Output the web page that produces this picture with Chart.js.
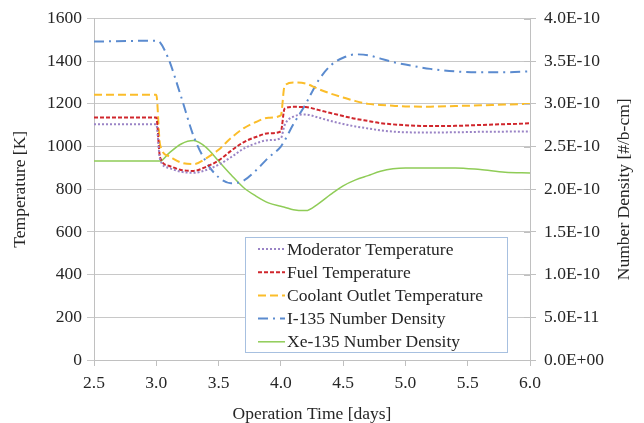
<!DOCTYPE html>
<html>
<head>
<meta charset="utf-8">
<script src="https://cdn.jsdelivr.net/npm/chart.js@4/dist/chart.umd.min.js"></script>
<style>
  html, body { margin: 0; padding: 0; background: #fff; }
  #wrap { width: 644px; height: 423px; }
</style>
</head>
<body>
<div id="wrap"><canvas id="chart" width="644" height="423"></canvas></div>
<script>
// operation time [days]
const times = [2.5, 3.0, 3.03, 3.1, 3.2, 3.3, 3.4, 3.5, 3.6, 3.7, 3.8, 3.9, 4.0, 4.03, 4.1,
  4.2, 4.3, 4.4, 4.5, 4.6, 4.7, 4.8, 4.9, 5.0, 5.2, 5.4, 5.6, 5.8, 6.0];

// temperatures [K]
const moderatorTemp = [1104, 1104, 940, 900, 882, 877, 890, 915, 950, 990, 1015, 1030, 1039, 1100, 1140,
  1150, 1136, 1120, 1106, 1094, 1085, 1076, 1070, 1067, 1066, 1067, 1069, 1070, 1071];
const fuelTemp = [1136, 1136, 950, 910, 890, 886, 905, 935, 980, 1020, 1045, 1062, 1071, 1178, 1186,
  1185, 1172, 1157, 1143, 1130, 1120, 1110, 1104, 1100, 1096, 1097, 1101, 1105, 1109];
const coolantTemp = [1243, 1243, 1010, 955, 925, 918, 945, 985, 1040, 1085, 1115, 1135, 1146, 1285, 1300,
  1295, 1270, 1248, 1230, 1213, 1200, 1195, 1191, 1188, 1187, 1190, 1193, 1197, 1200];

// number densities [#/b-cm]
const i135Density = [3.73e-10, 3.74e-10, 3.72e-10, 3.52e-10, 3.08e-10, 2.62e-10, 2.32e-10, 2.14e-10, 2.07e-10,
  2.10e-10, 2.22e-10, 2.37e-10, 2.50e-10, 2.57e-10, 2.76e-10, 3.00e-10, 3.27e-10, 3.45e-10, 3.54e-10,
  3.58e-10, 3.57e-10, 3.53e-10, 3.49e-10, 3.46e-10, 3.41e-10, 3.38e-10, 3.37e-10, 3.37e-10, 3.38e-10];
const xe135Density = [2.33e-10, 2.33e-10, 2.33e-10, 2.42e-10, 2.53e-10, 2.57e-10, 2.49e-10, 2.33e-10, 2.17e-10,
  2.02e-10, 1.92e-10, 1.84e-10, 1.80e-10, 1.79e-10, 1.76e-10, 1.75e-10, 1.83e-10, 1.94e-10, 2.04e-10,
  2.11e-10, 2.16e-10, 2.21e-10, 2.24e-10, 2.25e-10, 2.25e-10, 2.25e-10, 2.23e-10, 2.20e-10, 2.19e-10];

const rightTitle = 'Number Density [#/b-cm]';

const FONT = '"Liberation Serif", "Times New Roman", serif';
const FS = 17.5;
const TEXT = '#262626';

function pts(vals) {
  return times.map((t, i) => ({ x: t, y: vals[i] }));
}

// 4.0E-10, 5.0E-11, 0.0E+00
function sci(v) {
  if (Math.abs(v) < 1e-20) return '0.0E+00';
  let e = Math.floor(Math.log10(Math.abs(v)) + 1e-9);
  let m = v / Math.pow(10, e);
  let s = e < 0 ? '-' : '+';
  let ae = Math.abs(e);
  return m.toFixed(1) + 'E' + s + (ae < 10 ? '0' + ae : ae);
}

// legend drawn inside the plot, like the original
const legendBox = {
  id: 'legendBox',
  afterDatasetsDraw(chart) {
    const ctx = chart.ctx;
    ctx.save();
    ctx.fillStyle = '#fff';
    ctx.fillRect(245.5, 237.5, 262, 115);
    ctx.strokeStyle = '#a7c0e0';
    ctx.lineWidth = 1;
    ctx.strokeRect(245.5, 237.5, 262, 115);
    chart.data.datasets.forEach((ds, i) => {
      const y = 249 + i * 23.2;
      ctx.beginPath();
      ctx.setLineDash(ds.borderDash || []);
      ctx.strokeStyle = ds.borderColor;
      ctx.lineWidth = ds.borderWidth;
      ctx.moveTo(258, y);
      ctx.lineTo(285, y);
      ctx.stroke();
      ctx.setLineDash([]);
      ctx.fillStyle = TEXT;
      ctx.font = FS + 'px ' + FONT;
      ctx.textBaseline = 'middle';
      ctx.fillText(ds.label, 287, y + 1);
    });
    ctx.restore();
  }
};

// right axis title reads bottom-to-top in the original; ticks cross the axis line
const rightAxisExtras = {
  id: 'rightAxisExtras',
  afterDraw(chart) {
    const ctx = chart.ctx;
    const a = chart.chartArea;
    const s = chart.scales.y1;
    ctx.save();
    ctx.strokeStyle = '#c0c0c0';
    ctx.lineWidth = 1;
    s.ticks.forEach(t => {
      const y = Math.round(s.getPixelForValue(t.value)) + 0.5;
      ctx.beginPath();
      ctx.moveTo(a.right - 6, y);
      ctx.lineTo(a.right, y);
      ctx.stroke();
    });
    ctx.translate(624, (a.top + a.bottom) / 2);
    ctx.rotate(-Math.PI / 2);
    ctx.fillStyle = TEXT;
    ctx.font = FS + 'px ' + FONT;
    ctx.textAlign = 'center';
    ctx.textBaseline = 'middle';
    ctx.fillText(rightTitle, 0, 0);
    ctx.restore();
  }
};

const whiteBg = {
  id: 'whiteBg',
  beforeDraw(chart) {
    const ctx = chart.ctx;
    ctx.save();
    ctx.fillStyle = '#fff';
    ctx.fillRect(0, 0, chart.width, chart.height);
    ctx.restore();
  }
};

new Chart(document.getElementById('chart').getContext('2d'), {
  type: 'line',
  data: {
    datasets: [
      {
        label: 'Moderator Temperature',
        data: pts(moderatorTemp),
        yAxisID: 'y',
        borderColor: '#9a84c6',
        borderWidth: 2,
        borderDash: [2, 2],
        pointRadius: 0,
        cubicInterpolationMode: 'monotone'
      },
      {
        label: 'Fuel Temperature',
        data: pts(fuelTemp),
        yAxisID: 'y',
        borderColor: '#d0262c',
        borderWidth: 2,
        borderDash: [4, 2],
        pointRadius: 0,
        cubicInterpolationMode: 'monotone'
      },
      {
        label: 'Coolant Outlet Temperature',
        data: pts(coolantTemp),
        yAxisID: 'y',
        borderColor: '#fbbd2a',
        borderWidth: 2,
        borderDash: [8, 4],
        pointRadius: 0,
        cubicInterpolationMode: 'monotone'
      },
      {
        label: 'I-135 Number Density',
        data: pts(i135Density),
        yAxisID: 'y1',
        borderColor: '#5b8bcf',
        borderWidth: 2,
        borderDash: [10, 5, 2, 5],
        pointRadius: 0,
        cubicInterpolationMode: 'monotone'
      },
      {
        label: 'Xe-135 Number Density',
        data: pts(xe135Density),
        yAxisID: 'y1',
        borderColor: '#8fcc57',
        borderWidth: 1.5,
        pointRadius: 0,
        cubicInterpolationMode: 'monotone'
      }
    ]
  },
  options: {
    responsive: false,
    animation: false,
    layout: { padding: { top: 16, left: 0, right: 0, bottom: 0 } },
    plugins: {
      legend: { display: false },
      tooltip: { enabled: false }
    },
    scales: {
      x: {
        type: 'linear',
        min: 2.5,
        max: 6.0,
        ticks: {
          stepSize: 0.5,
          color: TEXT,
          font: { family: FONT, size: FS },
          padding: 7,
          maxRotation: 0,
          callback: v => v.toFixed(1)
        },
        grid: { display: true, drawOnChartArea: false, tickLength: 6, color: '#c0c0c0' },
        border: { color: '#c0c0c0' },
        title: {
          display: true,
          text: 'Operation Time [days]',
          color: TEXT,
          font: { family: FONT, size: FS },
          padding: { top: 4, bottom: -2 }
        },
        afterFit(s) { s.height = 63; }
      },
      y: {
        position: 'left',
        min: 0,
        max: 1600,
        ticks: {
          stepSize: 200,
          color: TEXT,
          font: { family: FONT, size: FS },
          padding: 5,
          callback: v => String(v)
        },
        grid: { color: '#c8c8c8', tickLength: 7 },
        border: { color: '#c0c0c0' },
        title: {
          display: true,
          text: 'Temperature [K]',
          color: TEXT,
          font: { family: FONT, size: FS },
          padding: { top: 10, bottom: 0 }
        },
        afterFit(s) { s.width = 94; }
      },
      y1: {
        position: 'right',
        min: 0,
        max: 4e-10,
        ticks: {
          stepSize: 5e-11,
          color: TEXT,
          font: { family: FONT, size: FS },
          padding: 8,
          callback: v => sci(v)
        },
        grid: { drawOnChartArea: false, tickLength: 6, color: '#c0c0c0' },
        border: { color: '#c0c0c0' },
        afterFit(s) { s.width = 114; }
      }
    }
  },
  plugins: [whiteBg, legendBox, rightAxisExtras]
});
</script>
</body>
</html>
